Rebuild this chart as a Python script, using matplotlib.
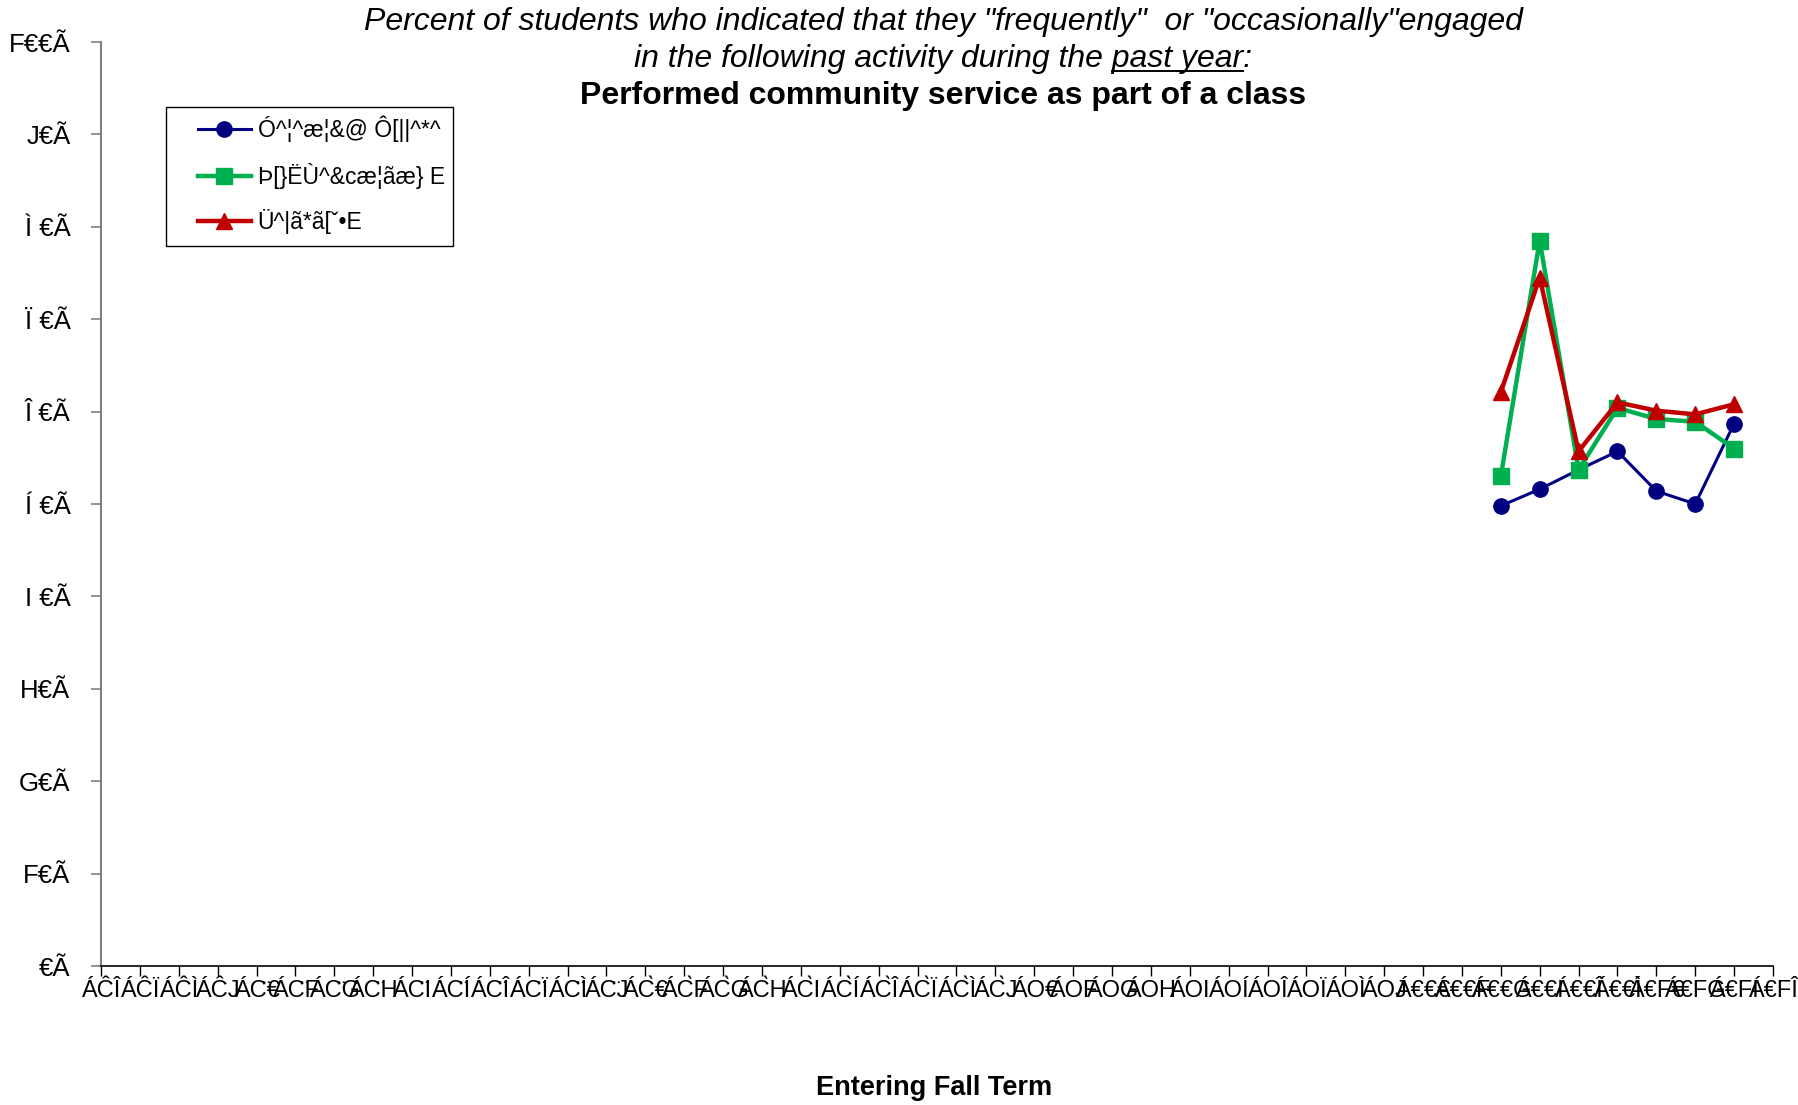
import matplotlib
matplotlib.use("Agg")
import matplotlib.pyplot as plt
from matplotlib.patches import Rectangle


# ------------------------------------------------------------
# Data
# ------------------------------------------------------------

tick_labels = [
    "ÁĈÎ", "ÁĈÏ", "ÁĈÌ", "ÁĈJ",
    "ÁC\u0308€", "ÁC\u0308F", "ÁC\u0308G", "ÁC\u0308H", "ÁC\u0308I",
    "ÁC\u0308Í", "ÁC\u0308Î", "ÁC\u0308Ï", "ÁC\u0308Ì", "ÁC\u0308J",
    "ÁC\u0300€", "ÁC\u0300F", "ÁC\u0300G", "ÁC\u0300H", "ÁC\u0300I",
    "ÁC\u0300Í", "ÁC\u0300Î", "ÁC\u0300Ï", "ÁC\u0300Ì", "ÁC\u0300J",
    "ÁO€", "ÁOF", "ÁOG", "ÁOH", "ÁOI",
    "ÁOÍ", "ÁOÎ", "ÁOÏ", "ÁOÌ", "ÁOJ",
    "Á€€€", "Á€€F", "Á€€G", "Á€€I", "Á€€Î", "Á€€Ì",
    "Á€F€", "Á€FG", "Á€FI", "Á€FÎ",
]

# category index of each plotted term
terms = [36, 37, 38, 39, 40, 41, 42]

series_a = [49.8, 51.6, 53.7, 55.7, 51.4, 50.0, 58.7]
series_b = [53.0, 78.5, 53.7, 60.4, 59.2, 58.9, 56.0]
series_c = [62.1, 74.5, 55.7, 61.0, 60.1, 59.7, 60.8]

legend_names = [
    "Ó^¦^æ¦&@ Ô[||^*^",
    "Þ[}ËÙ^&cæ¦ãæ} E",
    "Ü^|ã*ã[ˇ•E",
]

y_ticks = [0, 10, 20, 30, 40, 50, 60, 70, 80, 90, 100]
y_tick_labels = [
    "€Ã", "F€Ã", "G€Ã", "H€Ã", "I €Ã", "Í €Ã",
    "Î €Ã", "Ï €Ã", "Ì €Ã", "J€Ã", "F€€Ã",
]


# ------------------------------------------------------------
# Figure
# ------------------------------------------------------------

plt.rcParams["font.family"] = ["Liberation Sans", "DejaVu Sans"]

W, H = 1799, 1105
fig = plt.figure(figsize=(W / 100, H / 100), dpi=100)

left, right, top, bottom = 101, 1773, 42, 966
ax = fig.add_axes([
    left / W,
    1 - bottom / H,
    (right - left) / W,
    (bottom - top) / H,
])

ax.plot(terms, series_a, color="#000080", linewidth=2.2,
        marker="o", markersize=11, label=legend_names[0], zorder=3)
ax.plot(terms, series_b, color="#00B050", linewidth=3.2,
        marker="s", markersize=11, label=legend_names[1], zorder=4)
ax.plot(terms, series_c, color="#C00000", linewidth=3.2,
        marker="^", markersize=12, label=legend_names[2], zorder=5)

ax.set_xlim(0, len(tick_labels) - 1)
ax.set_ylim(0, 100)

ax.set_xticks(range(len(tick_labels)))
ax.set_xticklabels(tick_labels, fontsize=17)
ax.set_yticks(y_ticks)
ax.set_yticklabels(y_tick_labels, fontsize=18.5)

ax.spines["top"].set_visible(False)
ax.spines["right"].set_visible(False)
ax.spines["left"].set_color("#808080")
ax.spines["left"].set_linewidth(1.5)
ax.spines["bottom"].set_color("black")
ax.spines["bottom"].set_linewidth(1.2)

ax.tick_params(axis="y", direction="out", length=7, width=1.2,
               color="#808080", pad=15)
ax.tick_params(axis="x", direction="out", length=7, width=1.0,
               color="black", pad=3)

# legend entries without frame, box drawn separately
leg = ax.legend(
    loc="upper left",
    bbox_to_anchor=(198 / W, 1 - 116 / H),
    bbox_transform=fig.transFigure,
    fontsize=16.5,
    frameon=False,
    handlelength=2.3,
    handletextpad=0.3,
    labelspacing=0.88,
    borderpad=0,
    borderaxespad=0,
)
fig.add_artist(Rectangle(
    (166 / W, 1 - 246 / H),
    (453 - 166) / W,
    (246 - 107) / H,
    transform=fig.transFigure,
    facecolor="none",
    edgecolor="black",
    linewidth=1.0,
    zorder=6,
))

# ------------------------------------------------------------
# Titles
# ------------------------------------------------------------

cx = 943 / W
title_size = 23

fig.text(cx, 1 - 22 / H,
         'Percent of students who indicated that they "frequently"  or "occasionally"engaged',
         ha="center", va="center", fontsize=title_size, style="italic")

line2_pre = "in the following activity during the "
line2_ul = "past year"
line2_post = ":"
t2 = fig.text(cx, 1 - 59 / H, line2_pre + line2_ul + line2_post,
              ha="center", va="center", fontsize=title_size, style="italic")

fig.text(cx, 1 - 96 / H, "Performed community service as part of a class",
         ha="center", va="center", fontsize=title_size, weight="bold")

fig.text(934 / W, 1 - 1088 / H, "Entering Fall Term",
         ha="center", va="center", fontsize=19.5, weight="bold")

# underline "past year" using measured text extents
renderer = fig.canvas.get_renderer()
full_box = t2.get_window_extent(renderer)
probe = fig.text(0, 0, line2_pre, fontsize=title_size, style="italic")
pre_w = probe.get_window_extent(renderer).width
probe.set_text(line2_pre + line2_ul)
ul_w = probe.get_window_extent(renderer).width
probe.remove()

x0 = (full_box.x0 + pre_w) / W
x1 = (full_box.x0 + ul_w) / W
y_ul = (full_box.y0 + 3) / H
fig.add_artist(plt.Line2D([x0, x1], [y_ul, y_ul], color="black",
                          linewidth=1.4, transform=fig.transFigure))

fig.savefig("out.png", dpi=100)
plt.close(fig)
